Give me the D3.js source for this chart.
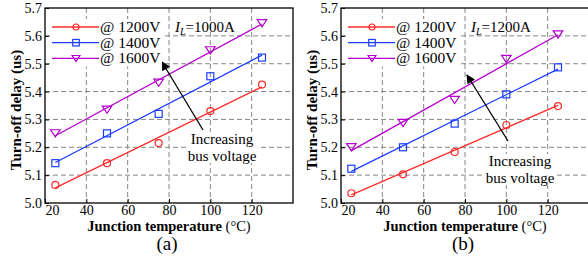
<!DOCTYPE html>
<html lang="en">
<head>
  <meta charset="UTF-8">
  <title>Turn-off delay vs junction temperature</title>
  <script src="https://cdn.jsdelivr.net/npm/d3@7"></script>
</head>
<body style="margin:0;background:#fff">
<style>
    text { font-family: "Liberation Serif", "Times New Roman", serif; fill: #000; }
    .grid line { stroke: #888; stroke-dasharray: 5,3; stroke-width: 1; }
    .frame { fill: none; stroke: #000; stroke-width: 1.3; }
</style>
<svg id="chart" width="588" height="257"></svg>
<script>
    // data
    var temps = [25, 50, 75, 100, 125];
    var xTicks = [20, 40, 60, 80, 100, 120];
    var yTicks = [5.0, 5.1, 5.2, 5.3, 5.4, 5.5, 5.6, 5.7];
    var voltages = ["@ 1200V", "@ 1400V", "@ 1600V"];
    var colors = ["#ff2a2a", "#1a3cff", "#b400cc"];

    var delayA1200 = [5.065, 5.143, 5.215, 5.330, 5.425];
    var delayA1400 = [5.143, 5.250, 5.320, 5.455, 5.522];
    var delayA1600 = [5.250, 5.335, 5.432, 5.548, 5.645];

    var delayB1200 = [5.035, 5.103, 5.183, 5.280, 5.348];
    var delayB1400 = [5.123, 5.200, 5.285, 5.390, 5.487];
    var delayB1600 = [5.200, 5.287, 5.370, 5.517, 5.605];

    var panels = [
      {left: 45, label: "(a)", current: "1000A", series: [delayA1200, delayA1400, delayA1600],
       arrow: [[203, 130], [162, 62]], note: [222, 144]},
      {left: 341, label: "(b)", current: "1200A", series: [delayB1200, delayB1400, delayB1600],
       arrow: [[508, 141], [467, 75]], note: [520, 166]}
    ];

    var svg = d3.select("#chart");
    var plotTop = 8, plotBottom = 203, pw = 248;

    svg.append("defs").append("marker")
        .attr("id", "head")
        .attr("viewBox", "0 0 10 10")
        .attr("refX", 9).attr("refY", 5)
        .attr("markerWidth", 11).attr("markerHeight", 9)
        .attr("markerUnits", "userSpaceOnUse")
        .attr("orient", "auto")
      .append("path")
        .attr("d", "M0,0 L10,5 L0,10 Z")
        .attr("fill", "#000");

    // least squares line through the points, like the fit in the figure
    function fit(ys) {
      var mx = d3.mean(temps), my = d3.mean(ys);
      var sxy = d3.sum(temps, function(t, i) { return (t - mx) * (ys[i] - my); });
      var sxx = d3.sum(temps, function(t) { return (t - mx) * (t - mx); });
      var k = sxy / sxx;
      return function(t) { return my + k * (t - mx); };
    }

    function drawMarker(g, kind, x, y, s, color) {
      if (kind == 0) {
        g.append("circle").attr("cx", x).attr("cy", y).attr("r", s * 0.5)
          .attr("fill", "none").attr("stroke", color).attr("stroke-width", 1.2);
      } else if (kind == 1) {
        g.append("rect").attr("x", x - s / 2).attr("y", y - s / 2)
          .attr("width", s).attr("height", s)
          .attr("fill", "none").attr("stroke", color).attr("stroke-width", 1.2);
      } else {
        var h = s * 0.9;
        g.append("path")
          .attr("d", "M" + (x - s * 0.6) + "," + (y - h / 2) + " L" + (x + s * 0.6) + "," + (y - h / 2) +
                     " L" + x + "," + (y + h / 2) + " Z")
          .attr("fill", "none").attr("stroke", color).attr("stroke-width", 1.2);
      }
    }

    panels.forEach(function(p) {
      var x = d3.scaleLinear().domain([20, 140]).range([p.left, p.left + pw]);
      var y = d3.scaleLinear().domain([5.0, 5.7]).range([plotBottom, plotTop]);
      var g = svg.append("g");

      // grid
      var grid = g.append("g").attr("class", "grid");
      grid.selectAll(".gx").data(xTicks.slice(1)).enter().append("line")
          .attr("x1", function(d) { return x(d); }).attr("x2", function(d) { return x(d); })
          .attr("y1", plotTop).attr("y2", plotBottom);
      grid.selectAll(".gy").data(yTicks.slice(1, -1)).enter().append("line")
          .attr("y1", function(d) { return y(d); }).attr("y2", function(d) { return y(d); })
          .attr("x1", p.left).attr("x2", p.left + pw);

      // fit lines and points
      p.series.forEach(function(vals, si) {
        var f = fit(vals);
        g.append("line")
          .attr("x1", x(temps[0])).attr("y1", y(f(temps[0])))
          .attr("x2", x(temps[4])).attr("y2", y(f(temps[4])))
          .attr("stroke", colors[si]).attr("stroke-width", 1.3);
        vals.forEach(function(v, i) {
          drawMarker(g, si, x(temps[i]), y(v), si == 2 ? 8 : 7, colors[si]);
        });
      });

      // annotation arrow + text with white box
      g.append("line")
        .attr("x1", p.arrow[0][0]).attr("y1", p.arrow[0][1])
        .attr("x2", p.arrow[1][0]).attr("y2", p.arrow[1][1])
        .attr("stroke", "#000").attr("stroke-width", 1.3)
        .attr("marker-end", "url(#head)");
      var note = g.append("g");
      var noteText = note.append("text")
        .attr("x", p.note[0]).attr("y", p.note[1])
        .attr("text-anchor", "middle").style("font-size", "15px");
      noteText.append("tspan").attr("x", p.note[0]).text("Increasing");
      noteText.append("tspan").attr("x", p.note[0]).attr("dy", 17).text("bus voltage");
      var bb = noteText.node().getBBox();
      note.insert("rect", "text")
        .attr("x", bb.x - 1).attr("y", bb.y + 1)
        .attr("width", bb.width + 2).attr("height", bb.height - 2)
        .attr("fill", "#fff");

      // legend
      voltages.forEach(function(lbl, si) {
        var ly = 27 + si * 15.7;
        var lx = p.left + 7;
        g.append("rect").attr("x", lx - 2).attr("y", ly - 8).attr("width", 112).attr("height", 16).attr("fill", "#fff");
      });
      voltages.forEach(function(lbl, si) {
        var ly = 27 + si * 15.7;
        var lx = p.left + 7;
        g.append("line").attr("x1", lx).attr("x2", lx + 47).attr("y1", ly).attr("y2", ly)
          .attr("stroke", colors[si]).attr("stroke-width", 1.3);
        drawMarker(g, si, lx + 24, ly, si == 0 ? 6 : 6.5, colors[si]);
        g.append("text").attr("x", lx + 48).attr("y", ly + 5)
          .style("font-size", "15.5px").text(lbl);
      });
      var il = g.append("text").attr("x", p.left + 130).attr("y", 32).style("font-size", "15px");
      il.append("tspan").style("font-style", "italic").text("I");
      il.append("tspan").style("font-style", "italic").style("font-size", "10px").attr("dy", 3).text("L");
      il.append("tspan").attr("dy", -3).text("=" + p.current);

      // frame
      g.append("rect").attr("class", "frame")
        .attr("x", p.left).attr("y", plotTop).attr("width", pw).attr("height", plotBottom - plotTop);

      // axes ticks
      var xa = g.append("g").attr("transform", "translate(0," + plotBottom + ")")
        .call(d3.axisBottom(x).tickValues(xTicks).tickSize(-4).tickPadding(2).tickFormat(d3.format("d")));
      var ya = g.append("g").attr("transform", "translate(" + p.left + ",0)")
        .call(d3.axisLeft(y).tickValues(yTicks).tickSize(-4).tickPadding(3).tickFormat(d3.format(".1f")));
      [xa, ya].forEach(function(a) {
        a.select(".domain").remove();
        a.selectAll("line").attr("stroke", "#000");
        a.selectAll("text").style("font-size", "14px").attr("font-family", null);
      });
      xa.selectAll("text").filter(function(d) { return d == 20; }).attr("dx", 7);

      // axis titles
      var xt = g.append("text").attr("x", p.left + pw / 2).attr("y", 231)
        .attr("text-anchor", "middle").style("font-size", "14.5px");
      xt.append("tspan").style("font-weight", "bold").text("Junction temperature ");
      xt.append("tspan").text("(\u00B0C)");
      g.append("text")
        .attr("transform", "translate(" + (p.left - 24) + ",110) rotate(-90)")
        .attr("text-anchor", "middle").style("font-size", "15px").style("font-weight", "bold")
        .text("Turn-off delay (us)");
      g.append("text").attr("x", p.left + pw / 2 - 2).attr("y", 250)
        .attr("text-anchor", "middle").style("font-size", "19px").text(p.label);
    });
</script>
</body>
</html>
